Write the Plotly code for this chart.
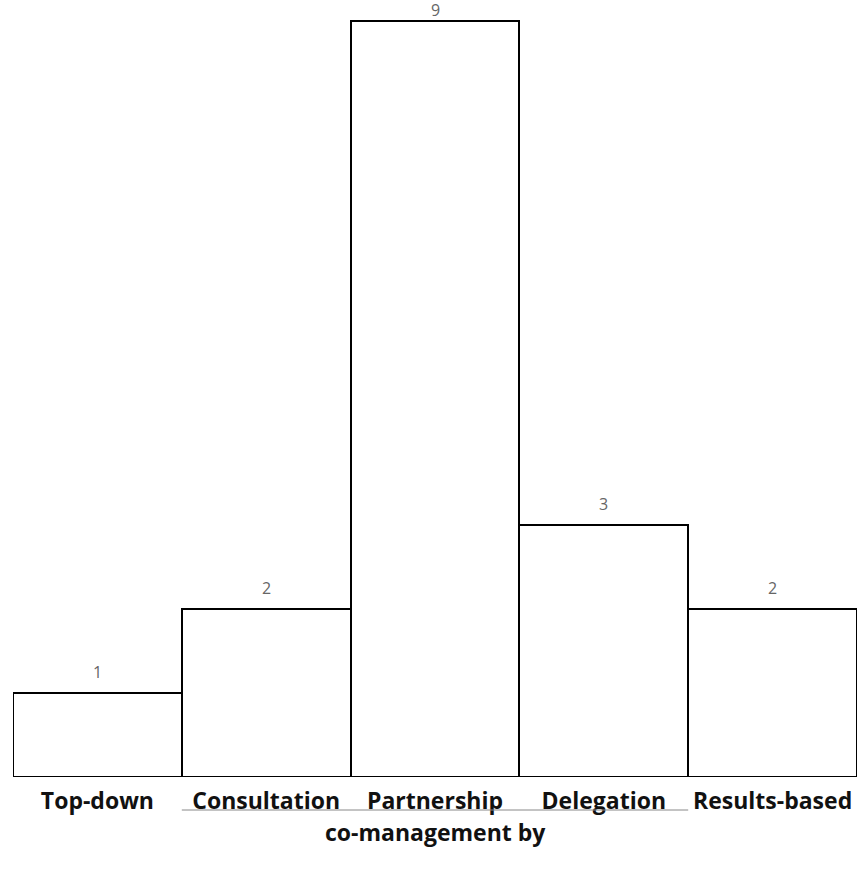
import plotly.graph_objects as go

categories = ["Top-down", "Consultation", "Partnership", "Delegation", "Results-based"]
counts = [1, 2, 9, 3, 2]
group_label = "co-management by"

H = 874
b = 97
unit = 84
ymax = 9.2
plot_h = ymax * unit
t = H - b - plot_h

fig = go.Figure(go.Bar(
    x=categories, y=counts,
    marker=dict(color="white", line=dict(color="black", width=2)),
    cliponaxis=False, hoverinfo="skip",
))

top = max(counts)
for cat, val in zip(categories, counts):
    fig.add_annotation(x=cat, y=val, text=str(val), showarrow=False,
                       yanchor="bottom", yshift=(-2 if val == top else 8),
                       font=dict(family="Open Sans", size=16, color="#666666"))

fig.update_layout(
    width=860, height=874,
    margin=dict(l=13, r=3, t=t, b=b, autoexpand=False),
    plot_bgcolor="white", paper_bgcolor="white",
    bargap=0, showlegend=False,
    xaxis=dict(range=[-0.5, 4.5], showgrid=False, zeroline=False, showline=False,
               ticks="", ticklabelstandoff=8, automargin=False,
               tickfont=dict(family="Open Sans", size=23, color="#111111", weight="bold")),
    yaxis=dict(range=[0, ymax], visible=False, automargin=False),
)

fig.add_shape(type="line", xref="x", yref="paper", x0=0.5, x1=3.5,
              y0=-33 / plot_h, y1=-33 / plot_h, line=dict(color="#888888", width=1))
fig.add_annotation(text="<b>" + group_label + "</b>", xref="x", yref="paper", x=2,
                   y=-55 / plot_h, showarrow=False, yanchor="middle",
                   font=dict(family="Open Sans", size=23, color="#111111"))

fig.write_html("out.html", config={"displayModeBar": False},
               post_script="document.body.style.margin='0';document.body.style.overflow='hidden';")
